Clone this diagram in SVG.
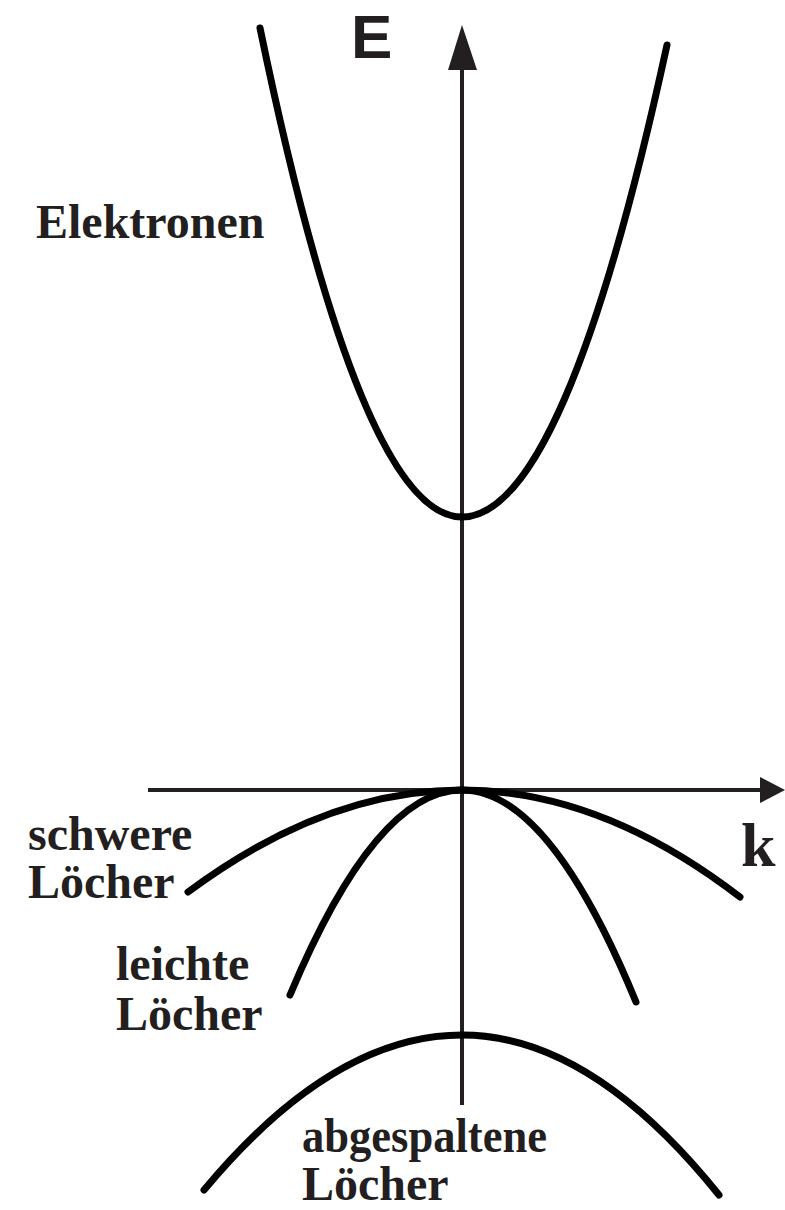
<svg xmlns="http://www.w3.org/2000/svg" width="785" height="1210" viewBox="0 0 785 1210">
<style>
.axis{stroke:#231f20;stroke-width:4;fill:none}
.band{stroke:#000;stroke-width:7;fill:none;stroke-linecap:round}
.lbl{font-family:"Liberation Serif","Times New Roman",serif;font-weight:bold;font-size:48px;fill:#231f20}
.ax{font-family:"Liberation Sans",Arial,sans-serif;font-weight:bold;font-size:62px;fill:#231f20}
</style>
<rect width="785" height="1210" fill="#fff"/>
<g id="axes">
<line class="axis" x1="462" y1="1105" x2="462" y2="66"/>
<polygon points="462,25 448,70 477,70" fill="#231f20"/>
<line class="axis" x1="148" y1="790" x2="764" y2="790"/>
<polygon points="785,790 760,777 760,803" fill="#231f20"/>
</g>
<g id="connectors">
<path id="elektronen-band" class="band" d="M260,28 Q361,517 462,517 Q564.5,517 667,45"/>
<path id="schwere-band" class="band" d="M188,892 Q325,790 462,790 Q601,790 740,897"/>
<path id="leichte-band" class="band" d="M290,995 Q376,790 462,790 Q549,790 636,1002"/>
<path id="abgespaltene-band" class="band" d="M204,1190 Q333,1035 462,1035 Q590.5,1035 719,1195"/>
</g>
<g id="label-E"><text class="ax" x="351" y="58">E</text></g>
<g id="label-k"><text class="lbl" x="741" y="866" style="font-size:62px">k</text></g>
<g id="label-elektronen"><text class="lbl" x="36" y="238">Elektronen</text></g>
<g id="label-schwere"><text class="lbl" x="28" y="850">schwere</text><text class="lbl" x="28" y="898">Löcher</text></g>
<g id="label-leichte"><text class="lbl" x="116" y="980">leichte</text><text class="lbl" x="116" y="1030">Löcher</text></g>
<g id="label-abgespaltene"><text class="lbl" x="302" y="1152" textLength="245" lengthAdjust="spacingAndGlyphs">abgespaltene</text><text class="lbl" x="302" y="1200">Löcher</text></g>
</svg>
